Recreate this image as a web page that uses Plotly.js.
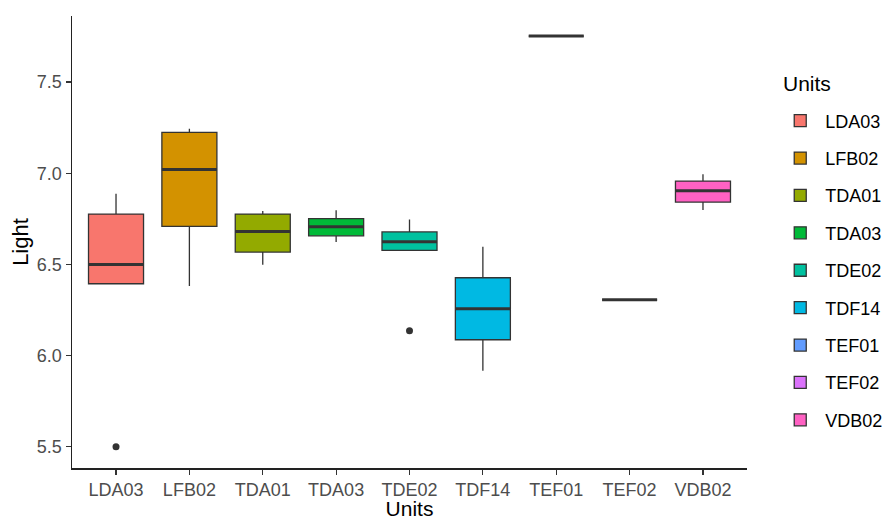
<!DOCTYPE html>
<html>
<head>
<meta charset="utf-8">
<script src="https://cdn.plot.ly/plotly-3.0.1.min.js"></script>
<style>html,body{margin:0;padding:0;background:#fff;}#chart{width:887px;height:520px;}</style>
</head>
<body>
<div id="chart"></div>
<script>
const units = ["LDA03","LFB02","TDA01","TDA03","TDE02","TDF14","TEF01","TEF02","VDB02"];
const lowerWhisker = [6.394, 6.382, 6.498, 6.623, 6.577, 5.917, 7.752, 6.306, 6.798];
const q1Values     = [6.394, 6.709, 6.568, 6.657, 6.577, 6.087, 7.752, 6.306, 6.842];
const medianValues = [6.500, 7.021, 6.681, 6.707, 6.624, 6.257, 7.752, 6.306, 6.904];
const q3Values     = [6.776, 7.224, 6.776, 6.751, 6.678, 6.427, 7.752, 6.306, 6.957];
const upperWhisker = [6.888, 7.244, 6.793, 6.797, 6.747, 6.597, 7.752, 6.306, 6.994];
const outlierUnits = ["LDA03","TDE02"];
const outlierValues = [5.50, 6.136];
const fillColors = ["#F8766D","#D39200","#93AA00","#00BA38","#00C19F","#00B9E3","#619CFF","#DB72FB","#FF61C3"];
const yTicks = [5.5, 6.0, 6.5, 7.0, 7.5];

const boxWidth = 0.75;
const lineCol = "#333333";
const traces = [];
units.forEach((u, i) => {
  traces.push({
    type: "box", name: u, legendgroup: u,
    x: [i], q1: [q1Values[i]], median: [medianValues[i]], q3: [q3Values[i]],
    lowerfence: [lowerWhisker[i]], upperfence: [upperWhisker[i]],
    width: boxWidth, whiskerwidth: 0,
    fillcolor: fillColors[i], line: {color: lineCol, width: 1.3},
    hoverinfo: "skip", boxpoints: false
  });
});
units.forEach((u, i) => {
  traces.push({
    type: "scatter", mode: "lines", showlegend: false, hoverinfo: "skip",
    x: [i - boxWidth/2, i + boxWidth/2], y: [medianValues[i], medianValues[i]],
    line: {color: lineCol, width: 3}
  });
});
traces.push({
  type: "scatter", mode: "markers", showlegend: false, hoverinfo: "skip",
  x: outlierUnits.map(u => units.indexOf(u)), y: outlierValues,
  marker: {color: lineCol, size: 7}
});

const layout = {
  width: 887, height: 520,
  margin: {l: 72, r: 140, t: 16, b: 52},
  paper_bgcolor: "#fff", plot_bgcolor: "#fff",
  font: {family: "Liberation Sans, Arial, sans-serif", color: "#000"},
  xaxis: {
    range: [-0.6, 8.6], tickmode: "array",
    tickvals: units.map((u, i) => i), ticktext: units,
    showgrid: false, zeroline: false, showline: true, linecolor: "#222", linewidth: 1.5,
    ticks: "outside", ticklen: 5, tickcolor: "#333", tickwidth: 1.2,
    tickfont: {size: 18, color: "#4D4D4D"}, automargin: false,
    title: {text: "Units", font: {size: 21, color: "#000"}, standoff: 13}
  },
  yaxis: {
    range: [5.384, 7.862], tickmode: "array", tickvals: yTicks,
    ticktext: yTicks.map(v => v.toFixed(1)),
    showgrid: false, zeroline: false, showline: true, linecolor: "#222", linewidth: 1.5,
    ticks: "outside", ticklen: 5, tickcolor: "#333", tickwidth: 1.2,
    tickfont: {size: 18, color: "#4D4D4D"}, automargin: false,
    title: {text: "Light", font: {size: 22, color: "#000"}, standoff: 2}
  },
  showlegend: true,
  legend: {
    xref: "container", yref: "container",
    x: 0.874, xanchor: "left", y: 0.803, yanchor: "top",
    font: {size: 18, color: "#000"}, maxheight: 420,
    tracegroupgap: 11, itemwidth: 40
  },
  annotations: [{
    text: "Units", xref: "paper", yref: "paper", x: 1.05, y: 0.85,
    xanchor: "left", yanchor: "middle", showarrow: false,
    font: {size: 21, color: "#000"}
  }],
  boxmode: "overlay"
};
Plotly.newPlot("chart", traces, layout, {displayModeBar: false, staticPlot: true});
</script>
</body>
</html>
